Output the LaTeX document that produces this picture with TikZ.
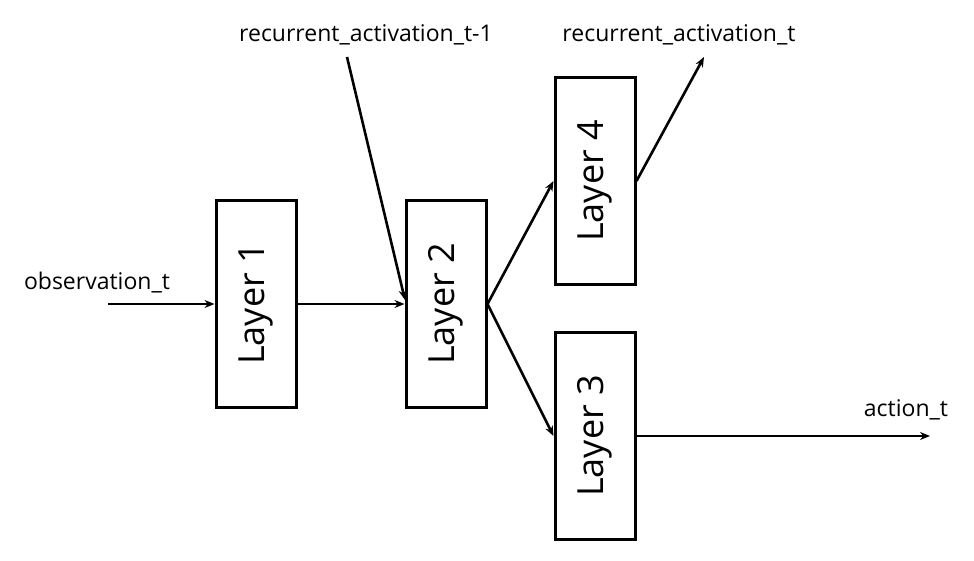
\documentclass[tikz,border=0pt]{standalone}
\usepackage{fontspec}
\setmainfont{Open Sans}
\usetikzlibrary{arrows.meta}
\begin{document}
\begin{tikzpicture}[x=1pt,y=-1pt,
  layerbox/.style={draw=black,line width=3pt,minimum width=80pt,minimum height=207pt,inner sep=0pt,fill=white},
  layertext/.style={font=\fontsize{36}{42}\selectfont,rotate=90},
  lbl/.style={font=\fontsize{23}{27}\selectfont,anchor=base,inner sep=0pt},
  conn/.style={line width=2.6pt,-{Stealth[length=10pt,width=8pt]}}]
\useasboundingbox (0,0) rectangle (974,561);
\node[layerbox] (l1) at (256,304) {};
\node[layertext] at (l1.center) {Layer 1};
\node[layerbox] (l2) at (446,304) {};
\node[layertext] at (l2.center) {Layer 2};
\node[layerbox] (l4) at (595,181) {};
\node[layertext] at (l4.center) {Layer 4};
\node[layerbox] (l3) at (595,436) {};
\node[layertext] at (l3.center) {Layer 3};
\node[lbl] (obs) at (97,290) {observation\_t};
\node[lbl] (rprev) at (366,42) {recurrent\_activation\_t-1};
\node[lbl] (rnow) at (679,42) {recurrent\_activation\_t};
\node[lbl] (act) at (906,416) {action\_t};
\coordinate (obsS) at (108,304);
\coordinate (rprevS) at (347,57);
\coordinate (rprevE) at (405,300);
\coordinate (rnowE) at (704,57);
\coordinate (actE) at (930,436);
\draw[conn] (obsS) -- (l1.west);
\draw[conn] (l1.east) -- (l2.west);
\draw[conn] (rprevS) -- (rprevE);
\draw[conn] (l2.east) -- (l4.west);
\draw[conn] (l2.east) -- (l3.west);
\draw[conn] (l4.east) -- (rnowE);
\draw[conn] (l3.east) -- (actE);
\end{tikzpicture}
\end{document}
